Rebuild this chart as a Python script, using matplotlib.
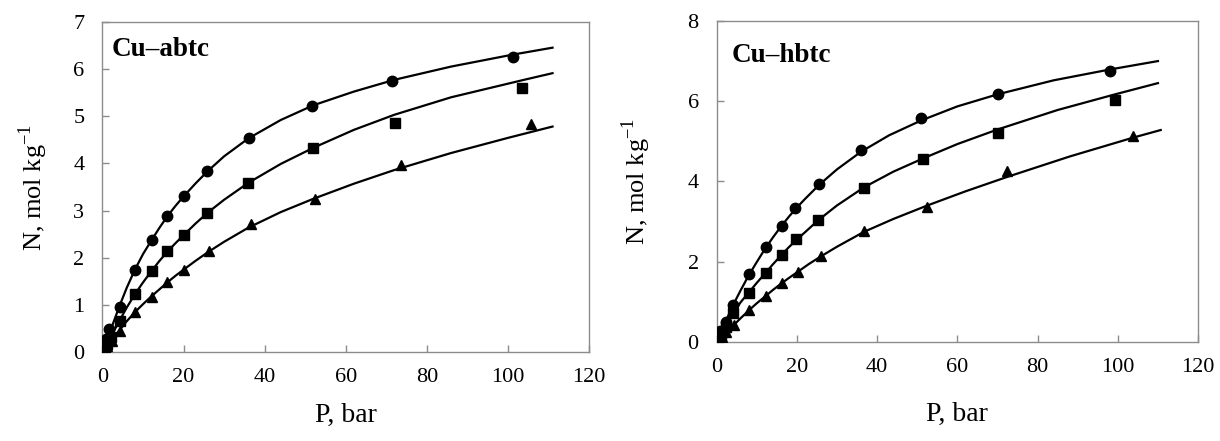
import numpy as np
import matplotlib
matplotlib.use("Agg")
import matplotlib.pyplot as plt

plt.rcParams['font.family'] = ['Liberation Serif', 'DejaVu Serif']
plt.rcParams['mathtext.fontset'] = 'custom'
plt.rcParams['mathtext.rm'] = 'Liberation Serif'

# ---- Cu-abtc (left panel) ----
abtc_circ_p = [0.4, 0.9, 1.7, 4.2, 8.0, 12.1, 16.0, 20.1, 25.9, 36.2, 51.6, 71.3, 101.3]
abtc_circ_n = [0.12, 0.28, 0.50, 0.97, 1.75, 2.37, 2.88, 3.30, 3.83, 4.54, 5.21, 5.74, 6.26]
abtc_sq_p = [0.5, 1.0, 2.2, 4.2, 8.0, 12.1, 16.0, 20.1, 25.9, 36.0, 51.9, 72.2, 103.5]
abtc_sq_n = [0.08, 0.17, 0.32, 0.67, 1.24, 1.72, 2.14, 2.49, 2.95, 3.58, 4.32, 4.85, 5.59]
abtc_tri_p = [0.6, 1.2, 2.3, 4.2, 8.0, 12.1, 16.0, 20.1, 26.3, 36.7, 52.5, 73.6, 105.7]
abtc_tri_n = [0.06, 0.13, 0.24, 0.46, 0.85, 1.18, 1.48, 1.75, 2.15, 2.72, 3.24, 3.96, 4.84]

# fitted isotherm lines
abtc_fit_circ_p = [0, 2, 4.2, 6, 8, 10, 12, 14, 16, 18, 20, 23, 26, 30, 36, 44, 52, 62, 72, 86, 101, 111]
abtc_fit_circ_n = [0, 0.47, 0.98, 1.37, 1.75, 2.08, 2.36, 2.63, 2.88, 3.10, 3.30, 3.58, 3.84, 4.15, 4.53, 4.92, 5.23, 5.52, 5.77, 6.05, 6.30, 6.45]
abtc_fit_sq_p = [0, 2, 4.2, 6, 8, 10, 12, 14, 16, 18, 20, 23, 26, 30, 36, 44, 52, 62, 72, 86, 104, 111]
abtc_fit_sq_n = [0, 0.32, 0.67, 0.95, 1.23, 1.48, 1.71, 1.93, 2.13, 2.31, 2.48, 2.73, 2.96, 3.23, 3.59, 3.99, 4.33, 4.71, 5.03, 5.40, 5.77, 5.91]
abtc_fit_tri_p = [0, 2, 4.2, 6, 8, 10, 12, 14, 16, 18, 20, 23, 26, 30, 36, 44, 52, 62, 72, 86, 100, 111]
abtc_fit_tri_n = [0, 0.23, 0.47, 0.66, 0.85, 1.02, 1.18, 1.33, 1.48, 1.62, 1.75, 1.94, 2.12, 2.34, 2.64, 2.97, 3.25, 3.57, 3.86, 4.22, 4.54, 4.78]

# ---- Cu-hbtc (right panel) ----
hbtc_circ_p = [0.4, 0.9, 2.2, 4.1, 8.1, 12.2, 16.2, 19.6, 25.5, 35.9, 50.9, 70.0, 98.1]
hbtc_circ_n = [0.12, 0.26, 0.50, 0.92, 1.68, 2.35, 2.89, 3.34, 3.93, 4.78, 5.57, 6.19, 6.75]
hbtc_sq_p = [0.5, 1.0, 2.3, 4.1, 8.1, 12.2, 16.2, 19.8, 25.3, 36.7, 51.4, 70.2, 99.3]
hbtc_sq_n = [0.08, 0.17, 0.36, 0.71, 1.21, 1.72, 2.16, 2.56, 3.04, 3.84, 4.56, 5.20, 6.03]
hbtc_tri_p = [0.6, 1.2, 2.4, 4.3, 8.1, 12.2, 16.2, 20.3, 26.0, 36.7, 52.3, 72.4, 103.8]
hbtc_tri_n = [0.06, 0.12, 0.23, 0.42, 0.79, 1.14, 1.46, 1.75, 2.14, 2.76, 3.37, 4.27, 5.13]

hbtc_fit_circ_p = [0, 2.2, 4.1, 6, 8, 10, 12, 14, 16, 18, 20, 22, 25.5, 30, 36, 43, 51, 60, 70, 84, 98, 110]
hbtc_fit_circ_n = [0, 0.50, 0.92, 1.29, 1.66, 1.99, 2.31, 2.60, 2.87, 3.12, 3.35, 3.56, 3.91, 4.30, 4.74, 5.15, 5.52, 5.87, 6.17, 6.52, 6.79, 7.00]
hbtc_fit_sq_p = [0, 2, 4.1, 6, 8.1, 10, 12.2, 14, 16.2, 18, 20, 22, 25.3, 30, 36.7, 44, 51.4, 60, 70.2, 85, 99.3, 110]
hbtc_fit_sq_n = [0, 0.36, 0.71, 0.99, 1.24, 1.47, 1.72, 1.93, 2.17, 2.36, 2.55, 2.73, 3.03, 3.40, 3.85, 4.24, 4.57, 4.93, 5.30, 5.78, 6.17, 6.45]
hbtc_fit_tri_p = [0, 2, 4.3, 6, 8.1, 10, 12.2, 14, 16.2, 18, 20.3, 23, 26, 30, 36.7, 44, 52.3, 62, 72.4, 88, 103.8, 110.7]
hbtc_fit_tri_n = [0, 0.20, 0.42, 0.59, 0.79, 0.96, 1.14, 1.29, 1.46, 1.59, 1.75, 1.94, 2.13, 2.37, 2.74, 3.06, 3.39, 3.75, 4.11, 4.62, 5.09, 5.28]

fig = plt.figure(figsize=(12.2, 4.41), dpi=100)
ax1 = fig.add_axes([0.0840, 0.2011, 0.3988, 0.7497])
ax2 = fig.add_axes([0.5875, 0.2252, 0.3945, 0.7272])

panels = [
    dict(ax=ax1, title='Cu\u2013abtc', ymax=7, ystep=1, tx=0.019, ty=0.955, ylpad=17, xlpad=11,
         pts=[(abtc_circ_p, abtc_circ_n, 'o'), (abtc_sq_p, abtc_sq_n, 's'), (abtc_tri_p, abtc_tri_n, '^')],
         fits=[(abtc_fit_circ_p, abtc_fit_circ_n), (abtc_fit_sq_p, abtc_fit_sq_n), (abtc_fit_tri_p, abtc_fit_tri_n)]),
    dict(ax=ax2, title='Cu\u2013hbtc', ymax=8, ystep=2, tx=0.031, ty=0.932, ylpad=25, xlpad=18,
         pts=[(hbtc_circ_p, hbtc_circ_n, 'o'), (hbtc_sq_p, hbtc_sq_n, 's'), (hbtc_tri_p, hbtc_tri_n, '^')],
         fits=[(hbtc_fit_circ_p, hbtc_fit_circ_n), (hbtc_fit_sq_p, hbtc_fit_sq_n), (hbtc_fit_tri_p, hbtc_fit_tri_n)]),
]

for pn in panels:
    ax = pn['ax']
    for fx, fy in pn['fits']:
        ax.plot(fx, fy, '-', color='black', lw=1.6, zorder=2)
    for px, py, m in pn['pts']:
        ax.plot(px, py, m, color='black', ms=7.5, zorder=3)

    ax.set_xlim(0, 120)
    ax.set_ylim(0, pn['ymax'])
    ax.set_xticks(np.arange(0, 121, 20))
    ax.set_yticks(np.arange(0, pn['ymax'] + 0.5, pn['ystep']))
    ax.tick_params(direction='in', length=5, width=1, color='#8c8c8c',
                   labelsize=16, pad=11.5)
    ax.tick_params(axis='y', pad=13)
    for sp in ax.spines.values():
        sp.set_color('#8c8c8c')
        sp.set_linewidth(1)
    ax.set_xlabel('P, bar', fontsize=20, labelpad=pn['xlpad'])
    ax.set_ylabel(r'N, mol kg$^{\mathregular{-1}}$', fontsize=19, labelpad=pn['ylpad'])
    ax.text(pn['tx'], pn['ty'], pn['title'], transform=ax.transAxes, fontsize=19.5,
            fontweight='bold', va='top', ha='left')

fig.savefig('out.png', dpi=100)
